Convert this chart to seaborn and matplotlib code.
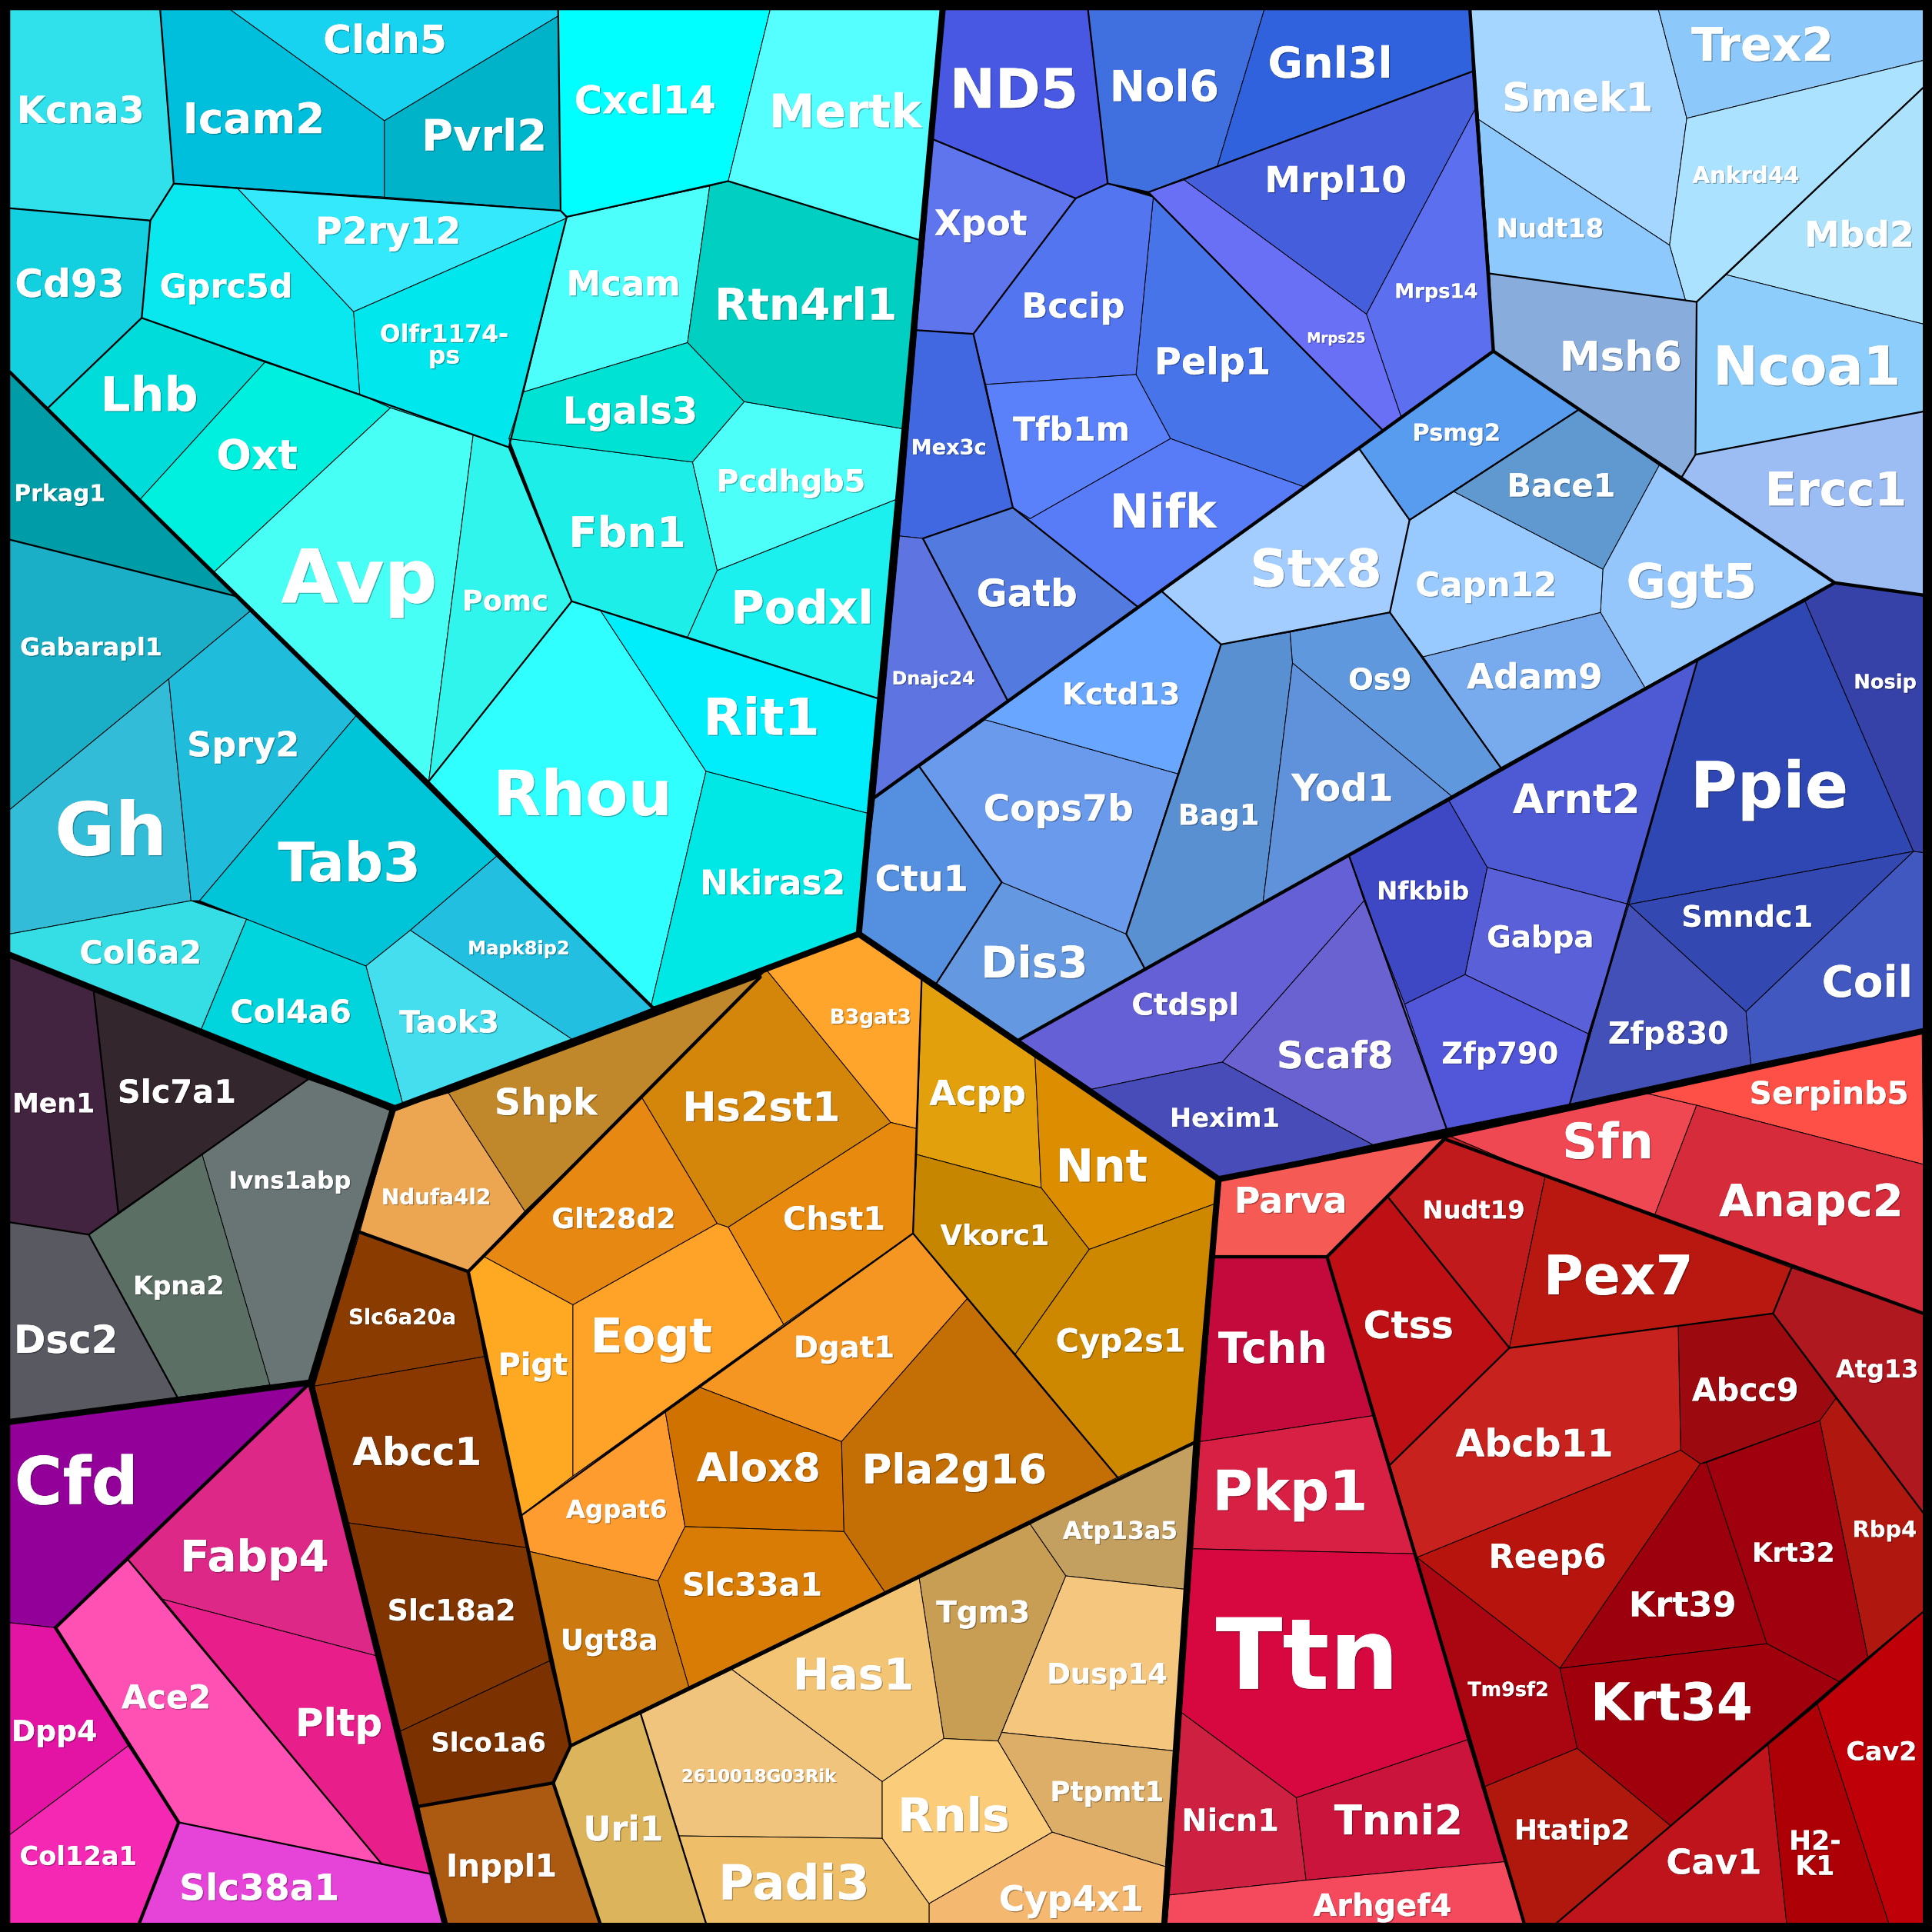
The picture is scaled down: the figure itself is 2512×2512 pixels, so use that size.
import matplotlib
matplotlib.use('Agg')
import matplotlib.pyplot as plt
import matplotlib.patheffects as pe
from matplotlib.font_manager import FontProperties
from matplotlib.textpath import TextPath
import seaborn as sns

sns.set_theme(style='white')
plt.rcParams['font.family'] = ['DejaVu Sans']

UNITS = 1568
PX = 2512 / UNITS
PT = PX * 0.72

# cell outlines per gene
cells_cyan = {
    'Kcna3': [(8, 8), (130, 8), (141, 149), (122, 179), (8, 169)],
    'Cldn5': [(187, 8), (453, 8), (453, 13), (312, 98)],
    'Icam2': [(130, 8), (187, 8), (312, 98), (312, 160), (141, 149)],
    'Pvrl2': [(312, 98), (453, 13), (455, 171), (312, 160)],
    'Cd93': [(8, 169), (122, 179), (115, 258), (39, 331), (8, 302)],
    'Gprc5d': [(141, 149), (193, 153), (287, 253), (292, 320), (215, 294), (115, 258), (122, 179)],
    'P2ry12': [(193, 153), (312, 160), (455, 171), (460, 177), (287, 253)],
    'Olfr1174-\nps': [(287, 253), (460, 177), (425, 318), (413, 363), (384, 353), (317, 331), (292, 320)],
    'Lhb': [(115, 258), (215, 294), (114, 405), (39, 331)],
    'Oxt': [(215, 294), (292, 320), (317, 331), (174, 464), (114, 405)],
    'Avp': [(317, 331), (384, 353), (348, 634), (174, 464)],
    'Pomc': [(384, 353), (413, 363), (464, 488), (348, 634)],
    'Rhou': [(464, 488), (487, 495), (573, 626), (528, 818), (348, 634)],
    'Rit1': [(487, 495), (558, 517), (713, 567), (704, 660), (573, 626)],
    'Nkiras2': [(573, 626), (704, 660), (698, 758), (528, 818)],
    'Podxl': [(582, 463), (728, 405), (713, 567), (558, 517)],
    'Pcdhgb5': [(604, 326), (733, 348), (728, 405), (582, 463), (562, 375)],
    'Fbn1': [(413, 356), (562, 375), (582, 463), (558, 517), (464, 488)],
    'Lgals3': [(425, 318), (558, 278), (604, 326), (562, 375), (413, 356)],
    'Mcam': [(460, 176), (576, 151), (558, 278), (425, 318)],
    'Rtn4rl1': [(576, 151), (591, 147), (747, 195), (733, 348), (604, 326), (558, 278)],
    'Cxcl14': [(453, 8), (625, 8), (591, 147), (576, 151), (460, 176), (455, 171)],
    'Mertk': [(625, 8), (765, 8), (747, 195), (591, 147)],
    'Prkag1': [(8, 302), (192, 484), (8, 438)],
    'Gabarapl1': [(8, 438), (192, 484), (203, 496), (137, 551), (8, 657)],
    'Gh': [(8, 657), (137, 551), (155, 731), (8, 758)],
    'Spry2': [(137, 551), (203, 496), (289, 581), (162, 731), (155, 731)],
    'Tab3': [(289, 581), (403, 695), (333, 755), (297, 784), (200, 746), (162, 731)],
    'Mapk8ip2': [(403, 695), (530, 818), (465, 844), (333, 755)],
    'Taok3': [(333, 755), (465, 844), (328, 900), (297, 784)],
    'Col4a6': [(200, 746), (297, 784), (328, 900), (163, 836)],
    'Col6a2': [(8, 758), (155, 731), (200, 746), (163, 836), (8, 775)],
}
cells_left = {
    'Men1': [(8, 775), (76, 804), (96, 984), (72, 1002), (8, 992)],
    'Slc7a1': [(76, 804), (250, 876), (164, 937), (96, 984)],
    'Ivns1abp': [(250, 876), (319, 900), (292, 1000), (252, 1122), (219, 1124), (164, 937)],
    'Kpna2': [(164, 937), (219, 1124), (144, 1134), (72, 1002)],
    'Dsc2': [(8, 992), (72, 1002), (144, 1134), (8, 1154)],
    'Cfd': [(8, 1154), (252, 1122), (104, 1266), (45, 1321), (8, 1317)],
    'Fabp4': [(252, 1122), (306, 1344), (132, 1298), (104, 1266)],
    'Pltp': [(132, 1298), (306, 1344), (350, 1521), (310, 1513)],
    'Ace2': [(104, 1266), (132, 1298), (310, 1513), (145, 1479), (104, 1417), (45, 1321)],
    'Dpp4': [(8, 1317), (45, 1321), (104, 1417), (8, 1489)],
    'Col12a1': [(8, 1489), (104, 1417), (145, 1479), (113, 1561), (8, 1561)],
    'Slc38a1': [(145, 1479), (310, 1513), (350, 1521), (361, 1561), (113, 1561)],
    'Slc6a20a': [(292, 1000), (380, 1032), (393, 1101), (255, 1125)],
    'Abcc1': [(255, 1125), (393, 1101), (427, 1256), (283, 1236)],
    'Slc18a2': [(283, 1236), (427, 1256), (446, 1348), (325, 1405)],
    'Slco1a6': [(325, 1405), (446, 1348), (463, 1417), (449, 1447), (340, 1466)],
    'Inppl1': [(340, 1466), (449, 1447), (487, 1561), (361, 1561)],
}
cells_orange = {
    'Ndufa4l2': [(320, 900), (364, 887), (426, 983), (380, 1032), (292, 1000)],
    'Shpk': [(364, 887), (617, 793), (521, 891), (426, 983)],
    'Hs2st1': [(622, 787), (723, 911), (591, 996), (582, 993), (521, 891)],
    'B3gat3': [(622, 787), (697, 759), (748, 795), (744, 916), (723, 911)],
    'Acpp': [(748, 795), (840, 858), (845, 964), (744, 937)],
    'Nnt': [(840, 858), (988, 957), (986, 977), (884, 1014), (845, 964)],
    'Vkorc1': [(744, 937), (845, 964), (884, 1014), (824, 1099), (785, 1054), (741, 1001)],
    'Cyp2s1': [(884, 1014), (986, 977), (971, 1170), (907, 1199), (824, 1099)],
    'Chst1': [(723, 911), (744, 916), (741, 1001), (636, 1075), (591, 996)],
    'Glt28d2': [(393, 1020), (521, 891), (582, 993), (465, 1059)],
    'Pigt': [(380, 1032), (393, 1020), (465, 1059), (465, 1198), (423, 1230)],
    'Eogt': [(465, 1059), (582, 993), (591, 996), (636, 1075), (465, 1198)],
    'Dgat1': [(636, 1075), (741, 1001), (785, 1054), (683, 1170), (568, 1126)],
    'Agpat6': [(423, 1230), (465, 1198), (540, 1146), (556, 1239), (534, 1283), (429, 1259)],
    'Alox8': [(540, 1146), (568, 1126), (683, 1170), (685, 1243), (556, 1239)],
    'Pla2g16': [(683, 1170), (785, 1054), (907, 1199), (718, 1292), (685, 1243)],
    'Slc33a1': [(556, 1239), (685, 1243), (718, 1292), (559, 1369), (534, 1283)],
    'Ugt8a': [(429, 1259), (534, 1283), (559, 1369), (463, 1417)],
    'Atp13a5': [(971, 1170), (963, 1290), (865, 1279), (836, 1237), (907, 1199)],
    'Tgm3': [(836, 1237), (865, 1279), (810, 1413), (766, 1411), (746, 1281)],
    'Dusp14': [(865, 1279), (963, 1290), (953, 1421), (813, 1406)],
    'Ptpmt1': [(813, 1406), (953, 1421), (946, 1515), (854, 1487), (810, 1413)],
    'Has1': [(594, 1355), (746, 1281), (766, 1411), (716, 1446)],
    '2610018G03Rik': [(594, 1355), (716, 1446), (716, 1492), (551, 1490), (520, 1391)],
    'Rnls': [(766, 1411), (810, 1413), (854, 1487), (754, 1545), (716, 1492), (716, 1446)],
    'Cyp4x1': [(854, 1487), (946, 1515), (945, 1561), (754, 1561), (754, 1545)],
    'Padi3': [(551, 1490), (716, 1492), (754, 1545), (754, 1561), (573, 1561)],
    'Uri1': [(463, 1417), (520, 1391), (551, 1490), (573, 1561), (487, 1561), (449, 1447)],
}
cells_red = {
    'Tchh': [(985, 1020), (1077, 1020), (1114, 1149), (974, 1170)],
    'Pkp1': [(974, 1170), (1114, 1149), (1148, 1261), (968, 1257)],
    'Ttn': [(968, 1257), (1148, 1261), (1191, 1412), (1052, 1459), (959, 1390)],
    'Nicn1': [(959, 1390), (1052, 1459), (1060, 1526), (949, 1538)],
    'Tnni2': [(1052, 1459), (1191, 1412), (1221, 1511), (1060, 1526)],
    'Arhgef4': [(949, 1538), (1060, 1526), (1221, 1511), (1237, 1561), (947, 1561)],
    'Parva': [(989, 957), (1174, 921), (1126, 971), (1077, 1020), (985, 1020)],
    'Sfn': [(1174, 921), (1335, 887), (1377, 897), (1343, 986), (1254, 955)],
    'Serpinb5': [(1335, 887), (1560, 838), (1561, 945), (1377, 897)],
    'Anapc2': [(1377, 897), (1561, 945), (1561, 1066), (1454, 1029), (1343, 986)],
    'Nudt19': [(1174, 921), (1254, 955), (1225, 1094), (1126, 971)],
    'Pex7': [(1254, 955), (1454, 1029), (1439, 1066), (1225, 1094)],
    'Ctss': [(1126, 971), (1225, 1094), (1128, 1189), (1077, 1020)],
    'Atg13': [(1454, 1029), (1561, 1066), (1561, 1228), (1490, 1135), (1439, 1066)],
    'Abcc9': [(1362, 1076), (1439, 1066), (1490, 1135), (1477, 1153), (1380, 1188), (1364, 1177)],
    'Abcb11': [(1225, 1094), (1362, 1076), (1364, 1177), (1150, 1264), (1128, 1189)],
    'Reep6': [(1150, 1264), (1364, 1177), (1380, 1188), (1266, 1354)],
    'Krt39': [(1380, 1188), (1385, 1187), (1434, 1334), (1266, 1354)],
    'Krt32': [(1385, 1187), (1477, 1153), (1516, 1345), (1493, 1365), (1434, 1334)],
    'Rbp4': [(1477, 1153), (1490, 1135), (1561, 1228), (1561, 1308), (1516, 1345)],
    'Krt34': [(1266, 1354), (1434, 1334), (1493, 1365), (1356, 1482), (1280, 1419)],
    'Tm9sf2': [(1150, 1264), (1266, 1354), (1280, 1419), (1205, 1450)],
    'Htatip2': [(1205, 1450), (1280, 1419), (1356, 1482), (1263, 1561), (1237, 1561)],
    'Cav1': [(1356, 1482), (1435, 1416), (1450, 1561), (1263, 1561)],
    'H2-\nK1': [(1435, 1416), (1475, 1383), (1533, 1561), (1450, 1561)],
    'Cav2': [(1475, 1383), (1561, 1308), (1561, 1561), (1533, 1561)],
}
cells_blue = {
    'ND5': [(764, 8), (883, 8), (899, 149), (873, 161), (757, 113)],
    'Nol6': [(883, 8), (1026, 8), (988, 135), (932, 156), (899, 149)],
    'Gnl3l': [(1026, 8), (1193, 8), (1195, 58), (988, 135)],
    'Mrpl10': [(988, 135), (1195, 58), (1197, 89), (1109, 255), (961, 146)],
    'Mrps14': [(1197, 89), (1212, 285), (1137, 338), (1109, 255)],
    'Mrps25': [(932, 156), (961, 146), (1109, 255), (1137, 338), (1122, 349)],
    'Pelp1': [(936, 160), (1122, 349), (1058, 395), (950, 356), (922, 304)],
    'Bccip': [(899, 149), (936, 160), (922, 304), (800, 312), (790, 271), (873, 161)],
    'Xpot': [(757, 113), (873, 161), (790, 271), (744, 268)],
    'Tfb1m': [(800, 312), (922, 304), (950, 356), (836, 421), (822, 412)],
    'Nifk': [(836, 421), (950, 356), (1058, 395), (924, 493), (822, 412)],
    'Mex3c': [(744, 268), (790, 271), (822, 412), (749, 437), (730, 435)],
    'Gatb': [(749, 437), (822, 412), (924, 493), (818, 569)],
    'Dnajc24': [(730, 435), (749, 437), (818, 569), (710, 647)],
    'Ctu1': [(710, 647), (746, 622), (813, 716), (760, 798), (697, 758)],
    'Dis3': [(813, 716), (914, 758), (929, 786), (827, 844), (760, 798)],
    'Cops7b': [(799, 584), (956, 628), (914, 758), (813, 716), (746, 622)],
    'Kctd13': [(943, 480), (991, 523), (956, 628), (799, 584)],
    'Bag1': [(991, 523), (1047, 513), (1049, 538), (1025, 733), (929, 786), (914, 758), (956, 628)],
    'Yod1': [(1049, 538), (1178, 646), (1025, 733)],
    'Os9': [(1047, 513), (1128, 497), (1218, 623), (1178, 646), (1049, 538)],
    'Stx8': [(1103, 364), (1144, 422), (1128, 497), (1047, 513), (991, 523), (943, 480)],
    'Adam9': [(1155, 533), (1299, 497), (1335, 558), (1218, 623)],
    'Capn12': [(1144, 422), (1180, 399), (1301, 462), (1299, 497), (1155, 533), (1128, 497)],
    'Bace1': [(1180, 399), (1282, 332), (1347, 377), (1301, 462)],
    'Ggt5': [(1347, 377), (1489, 473), (1335, 558), (1299, 497), (1301, 462)],
    'Psmg2': [(1103, 364), (1212, 285), (1282, 332), (1144, 422)],
    'Smek1': [(1193, 8), (1346, 8), (1369, 96), (1355, 199), (1200, 97)],
    'Trex2': [(1346, 8), (1561, 8), (1561, 49), (1369, 96)],
    'Ankrd44': [(1369, 96), (1561, 49), (1561, 71), (1377, 245), (1368, 244), (1355, 199)],
    'Mbd2': [(1561, 71), (1561, 263), (1401, 223)],
    'Ncoa1': [(1377, 245), (1401, 223), (1561, 263), (1561, 334), (1376, 369)],
    'Nudt18': [(1200, 97), (1355, 199), (1368, 244), (1209, 222)],
    'Msh6': [(1209, 222), (1377, 245), (1376, 369), (1365, 387), (1212, 285)],
    'Ercc1': [(1376, 369), (1561, 334), (1561, 483), (1489, 473), (1365, 387)],
    'Arnt2': [(1176, 650), (1378, 535), (1322, 734), (1207, 704)],
    'Ppie': [(1378, 535), (1465, 488), (1553, 691), (1322, 734)],
    'Nosip': [(1465, 488), (1489, 473), (1561, 483), (1561, 692), (1553, 691)],
    'Smndc1': [(1322, 734), (1553, 691), (1417, 821)],
    'Coil': [(1553, 691), (1561, 692), (1561, 836), (1421, 864), (1417, 821)],
    'Zfp830': [(1322, 734), (1417, 821), (1421, 864), (1274, 896)],
    'Gabpa': [(1207, 704), (1322, 734), (1289, 839), (1189, 791)],
    'Nfkbib': [(1095, 695), (1176, 650), (1207, 704), (1189, 791), (1140, 815), (1107, 731)],
    'Zfp790': [(1140, 815), (1189, 791), (1289, 839), (1274, 896), (1174, 916)],
    'Scaf8': [(1107, 731), (1140, 815), (1174, 916), (1114, 929), (992, 862)],
    'Ctdspl': [(1095, 695), (1107, 731), (992, 862), (886, 884), (827, 844)],
    'Hexim1': [(886, 884), (992, 862), (1114, 929), (989, 957)],
}

cell_colors = {
    'Kcna3': '#30e0ea', 'Cldn5': '#17d3f0', 'Icam2': '#00bfdc', 'Pvrl2': '#00b3c9', 'Cd93': '#12d0df',
    'Gprc5d': '#08e8ee', 'P2ry12': '#33e9fb', 'Olfr1174-\nps': '#00e8ee', 'Lhb': '#00dcda', 'Oxt': '#00f0e0',
    'Avp': '#48fff5', 'Pomc': '#30f5ec', 'Rhou': '#30ffff', 'Rit1': '#00eefc', 'Nkiras2': '#00e8e6',
    'Podxl': '#1cf0ee', 'Pcdhgb5': '#4cfff8', 'Fbn1': '#1eeee8', 'Lgals3': '#00e2d4', 'Mcam': '#4dfffa',
    'Rtn4rl1': '#00cfc2', 'Cxcl14': '#00ffff', 'Mertk': '#55ffff', 'Prkag1': '#009da8', 'Gabarapl1': '#1aafc6',
    'Gh': '#33bcd8', 'Spry2': '#20bcdc', 'Tab3': '#00c5d9', 'Mapk8ip2': '#22bfe0', 'Taok3': '#45deef',
    'Col4a6': '#00d4dc', 'Col6a2': '#35dde5',
    'Men1': '#432440', 'Slc7a1': '#33262c', 'Ivns1abp': '#697474', 'Kpna2': '#5c6f64', 'Dsc2': '#595962',
    'Cfd': '#930099', 'Fabp4': '#dd2888', 'Pltp': '#e81f8a', 'Ace2': '#ff50b4', 'Dpp4': '#e314a4',
    'Col12a1': '#f528b4', 'Slc38a1': '#e644d8', 'Slc6a20a': '#8a3c00', 'Abcc1': '#8a3800', 'Slc18a2': '#803400',
    'Slco1a6': '#7c3200', 'Inppl1': '#ac5a12',
    'Ndufa4l2': '#eca652', 'Shpk': '#c0882a', 'Hs2st1': '#d4860a', 'B3gat3': '#ffa52c', 'Acpp': '#e2a00c',
    'Nnt': '#dc8e00', 'Vkorc1': '#c68600', 'Cyp2s1': '#ce8800', 'Chst1': '#e88a0e', 'Glt28d2': '#e68812',
    'Pigt': '#ffa822', 'Eogt': '#ffa228', 'Dgat1': '#f59622', 'Agpat6': '#ff9c30', 'Alox8': '#cf7200',
    'Pla2g16': '#c46e06', 'Slc33a1': '#d87c06', 'Ugt8a': '#cc7a10', 'Atp13a5': '#c4a060', 'Tgm3': '#c89e54',
    'Dusp14': '#f4c67e', 'Ptpmt1': '#dcae68', 'Has1': '#f3c474', '2610018G03Rik': '#f0c47c', 'Rnls': '#fbcd7a',
    'Cyp4x1': '#f4b870', 'Padi3': '#eebe68', 'Uri1': '#dcb45c',
    'Tchh': '#c40a3c', 'Pkp1': '#d81f44', 'Ttn': '#d6083f', 'Nicn1': '#ce2040', 'Tnni2': '#cb143c',
    'Arhgef4': '#f54a5e', 'Parva': '#f55a55', 'Sfn': '#ef4852', 'Serpinb5': '#ff5048', 'Anapc2': '#d62b3a',
    'Nudt19': '#c01a1c', 'Pex7': '#b81810', 'Ctss': '#be1014', 'Atg13': '#b01820', 'Abcc9': '#9c0a10',
    'Abcb11': '#c8221e', 'Reep6': '#b6140c', 'Krt39': '#9c000c', 'Krt32': '#a0000e', 'Rbp4': '#b0180f',
    'Krt34': '#9f000c', 'Tm9sf2': '#aa0612', 'Htatip2': '#b0180e', 'Cav1': '#c0141c', 'H2-\nK1': '#ac0006',
    'Cav2': '#c00008',
    'ND5': '#4858e2', 'Nol6': '#4070e0', 'Gnl3l': '#2f62dc', 'Mrpl10': '#445edc', 'Mrps14': '#5c70ef',
    'Mrps25': '#6a70f6', 'Pelp1': '#4874ea', 'Bccip': '#5376f0', 'Xpot': '#5f75ee', 'Tfb1m': '#5a80fa',
    'Nifk': '#587cf8', 'Mex3c': '#4168e0', 'Gatb': '#537ade', 'Dnajc24': '#5e74e0', 'Ctu1': '#5590e0',
    'Cops7b': '#6a9aec', 'Dis3': '#6498e0', 'Kctd13': '#68a6ff', 'Bag1': '#5890d2', 'Yod1': '#6092dc',
    'Os9': '#5f98dc', 'Stx8': '#a4cdff', 'Psmg2': '#589cf0', 'Capn12': '#98caff', 'Bace1': '#6098d0',
    'Ggt5': '#94c6fc', 'Adam9': '#78aaee', 'Smek1': '#a4d6ff', 'Trex2': '#8cc8fa', 'Ankrd44': '#aae2ff',
    'Nudt18': '#8dc9fc', 'Mbd2': '#ace2fc', 'Msh6': '#88acdc', 'Ncoa1': '#8dcdfc', 'Ercc1': '#9cbcf4',
    'Arnt2': '#4e5ad4', 'Ppie': '#2f47b2', 'Nosip': '#3642a8', 'Smndc1': '#3348b0', 'Coil': '#4158c0',
    'Zfp830': '#4250b8', 'Gabpa': '#5a60d8', 'Nfkbib': '#3e48c4', 'Zfp790': '#5256d8', 'Scaf8': '#6a62d0',
    'Ctdspl': '#6660d6', 'Hexim1': '#484cb8',
}

# left edge, right edge and middle height of each gene name
label_extents = {
    'Kcna3': (15, 116, 89), 'Cldn5': (263, 362, 32), 'Icam2': (150, 262, 96), 'Pvrl2': (344, 442, 110),
    'Cxcl14': (466, 581, 81), 'Mertk': (624, 748, 90), 'P2ry12': (257, 373, 187), 'Cd93': (13, 100, 230),
    'Gprc5d': (130, 237, 232), 'Olfr1174-\nps': (308, 413, 280), 'Mcam': (461, 551, 230), 'Rtn4rl1': (581, 727, 247),
    'Lhb': (83, 159, 320), 'Oxt': (176, 241, 369), 'Lgals3': (458, 565, 333), 'Prkag1': (12, 85, 400),
    'Avp': (228, 355, 468), 'Pomc': (376, 444, 487), 'Fbn1': (463, 555, 432), 'Pcdhgb5': (582, 702, 390),
    'Podxl': (595, 707, 493), 'Gabarapl1': (16, 132, 525), 'Spry2': (153, 242, 604), 'Rit1': (573, 663, 582),
    'Rhou': (403, 543, 644), 'Gh': (47, 133, 673), 'Tab3': (226, 341, 700), 'Nkiras2': (569, 685, 716),
    'Col6a2': (65, 163, 773), 'Mapk8ip2': (380, 462, 769), 'Col4a6': (187, 285, 821), 'Taok3': (324, 405, 829),
    'Men1': (11, 76, 895), 'Slc7a1': (96, 191, 886), 'Ivns1abp': (186, 285, 958), 'Kpna2': (109, 181, 1043),
    'Dsc2': (13, 94, 1087), 'Cfd': (14, 110, 1202), 'Fabp4': (147, 266, 1263), 'Ace2': (99, 171, 1377),
    'Pltp': (241, 309, 1398), 'Dpp4': (10, 78, 1405), 'Col12a1': (16, 111, 1506), 'Slc38a1': (146, 275, 1532),
    'Ndufa4l2': (310, 398, 971), 'Shpk': (401, 485, 894), 'Hs2st1': (555, 681, 898), 'B3gat3': (674, 739, 825),
    'Acpp': (754, 833, 887), 'Nnt': (858, 930, 946), 'Glt28d2': (448, 548, 989), 'Chst1': (636, 718, 989),
    'Vkorc1': (763, 852, 1002), 'Cyp2s1': (857, 962, 1088), 'Slc6a20a': (283, 370, 1069), 'Pigt': (405, 460, 1107),
    'Eogt': (480, 577, 1084), 'Dgat1': (645, 725, 1093), 'Abcc1': (286, 391, 1178), 'Agpat6': (459, 542, 1225),
    'Alox8': (565, 666, 1191), 'Pla2g16': (700, 849, 1192), 'Slc33a1': (554, 667, 1286), 'Slc18a2': (315, 418, 1307),
    'Ugt8a': (456, 533, 1331), 'Atp13a5': (862, 956, 1242), 'Tgm3': (760, 836, 1308), 'Has1': (645, 740, 1359),
    'Dusp14': (850, 947, 1358), 'Slco1a6': (350, 443, 1414), '2610018G03Rik': (552, 680, 1441),
    'Ptpmt1': (853, 944, 1454), 'Rnls': (730, 818, 1473), 'Uri1': (475, 537, 1484), 'Inppl1': (363, 451, 1514),
    'Padi3': (585, 704, 1528), 'Cyp4x1': (811, 928, 1541),
    'ND5': (773, 873, 72), 'Nol6': (902, 988, 70), 'Gnl3l': (1030, 1129, 51), 'Mrpl10': (1027, 1141, 146),
    'Xpot': (758, 834, 181), 'Bccip': (830, 912, 248), 'Mrps14': (1132, 1199, 236), 'Mrps25': (1061, 1108, 274),
    'Pelp1': (938, 1030, 293), 'Tfb1m': (822, 917, 348), 'Mex3c': (740, 800, 363), 'Nifk': (901, 987, 415),
    'Gatb': (793, 874, 481), 'Dnajc24': (724, 791, 550), 'Kctd13': (863, 957, 563), 'Cops7b': (798, 920, 656),
    'Bag1': (957, 1021, 661), 'Ctu1': (711, 785, 713), 'Dis3': (798, 881, 781), 'Stx8': (1016, 1120, 461),
    'Psmg2': (1147, 1217, 351), 'Capn12': (1149, 1263, 474), 'Bace1': (1224, 1310, 394), 'Ggt5': (1321, 1425, 472),
    'Os9': (1095, 1145, 551), 'Adam9': (1190, 1301, 549), 'Yod1': (1048, 1131, 639), 'Arnt2': (1228, 1331, 648),
    'Ppie': (1374, 1498, 637), 'Nosip': (1505, 1555, 553), 'Nfkbib': (1118, 1192, 723), 'Gabpa': (1207, 1293, 760),
    'Smndc1': (1365, 1471, 744), 'Coil': (1480, 1551, 797), 'Zfp830': (1305, 1403, 838), 'Zfp790': (1170, 1265, 855),
    'Ctdspl': (919, 1005, 815), 'Scaf8': (1037, 1130, 856), 'Hexim1': (950, 1038, 907), 'Smek1': (1220, 1341, 79),
    'Trex2': (1373, 1488, 36), 'Ankrd44': (1373, 1461, 142), 'Nudt18': (1215, 1301, 185), 'Mbd2': (1466, 1552, 190),
    'Msh6': (1267, 1364, 289), 'Ncoa1': (1392, 1541, 297), 'Ercc1': (1434, 1546, 397),
    'Serpinb5': (1420, 1549, 887), 'Sfn': (1270, 1340, 926), 'Anapc2': (1395, 1545, 974), 'Parva': (1003, 1092, 974),
    'Nudt19': (1155, 1237, 982), 'Pex7': (1255, 1372, 1035), 'Ctss': (1107, 1179, 1075), 'Tchh': (989, 1077, 1094),
    'Atg13': (1490, 1557, 1111), 'Abcc9': (1373, 1460, 1128), 'Abcb11': (1181, 1310, 1171), 'Pkp1': (986, 1108, 1210),
    'Reep6': (1209, 1303, 1263), 'Krt32': (1423, 1488, 1260), 'Rbp4': (1504, 1555, 1241), 'Krt39': (1323, 1408, 1302),
    'Ttn': (988, 1134, 1343), 'Krt34': (1292, 1421, 1381), 'Tm9sf2': (1191, 1257, 1371), 'Cav2': (1499, 1555, 1421),
    'Nicn1': (960, 1037, 1477), 'Tnni2': (1083, 1187, 1477), 'Htatip2': (1230, 1322, 1485), 'Cav1': (1353, 1429, 1511),
    'H2-\nK1': (1453, 1493, 1504), 'Arhgef4': (1065, 1179, 1546),
}

# dividers between the groups, heaviest first
heavy_lines = [
    [(8, 775), (319, 900), (697, 758), (765, 8)],
    [(697, 758), (989, 957), (1174, 921), (1560, 837)],
    [(989, 957), (971, 1170), (945, 1561)],
    [(319, 900), (252, 1122), (8, 1154)],
    [(252, 1122), (361, 1561)],
]
medium_lines = [
    [(8, 302), (530, 818)],
    [(1193, 8), (1212, 285)],
    [(710, 647), (1212, 285), (1489, 473), (1561, 483)],
    [(827, 844), (1489, 473)],
    [(1174, 925), (1561, 1066)],
    [(1077, 1020), (1237, 1561)],
    [(985, 1020), (1077, 1020), (1174, 923)],
    [(292, 1000), (380, 1032), (463, 1417), (449, 1447), (487, 1561)],
    [(463, 1417), (971, 1170)],
    [(380, 1032), (617, 793)],
    [(252, 1122), (45, 1321), (145, 1479), (113, 1561)],
    [(340, 1466), (449, 1447)],
]
light_lines = [
    [(453, 8), (455, 171), (460, 176), (413, 363), (464, 488), (348, 634)],
    [(141, 149), (455, 171)],
    [(130, 8), (141, 149), (122, 179), (115, 258), (39, 331)],
    [(8, 169), (122, 179)],
    [(115, 258), (413, 363)],
    [(460, 176), (591, 147), (747, 195)],
    [(464, 488), (713, 567)],
    [(192, 484), (8, 438)],
    [(757, 113), (873, 161), (899, 149), (883, 8)],
    [(899, 149), (932, 156), (1195, 58)],
    [(932, 156), (1122, 349)],
    [(873, 161), (790, 271), (822, 412), (924, 493)],
    [(822, 412), (749, 437), (818, 569)],
    [(744, 268), (790, 271)],
    [(943, 480), (991, 523), (914, 758), (929, 786)],
    [(991, 523), (1128, 497), (1218, 623)],
    [(1103, 364), (1144, 422), (1128, 497)],
    [(1144, 422), (1282, 332)],
    [(1209, 222), (1377, 245), (1376, 369), (1561, 334)],
    [(1377, 245), (1561, 71)],
    [(1376, 369), (1365, 387)],
    [(1095, 695), (1174, 916)],
    [(1378, 535), (1274, 896)],
    [(746, 622), (799, 584)],
    [(746, 622), (813, 716), (760, 798)],
    [(748, 795), (741, 1001), (423, 1230)],
    [(741, 1001), (907, 1199)],
    [(1126, 971), (1225, 1094), (1128, 1189)],
    [(1225, 1094), (1439, 1066), (1561, 1228)],
    [(1454, 1029), (1439, 1066)],
    [(1493, 1365), (1561, 1308)],
    [(1493, 1365), (1263, 1561)],
    [(145, 1479), (350, 1521)],
    [(104, 1266), (310, 1513)],
    [(76, 804), (96, 984)],
    [(8, 992), (72, 1002), (144, 1134)],
    [(72, 1002), (250, 876)],
    [(520, 1391), (573, 1561)],
]
frame_line = [(4, 4), (1564, 4), (1564, 1564), (4, 1564), (4, 4)]

all_cells = {**cells_cyan, **cells_left, **cells_orange, **cells_red, **cells_blue}
bold = FontProperties(family='DejaVu Sans', weight='bold')


def draw_lines(ax, lines, width):
    for line in lines:
        xs, ys = zip(*line)
        sns.lineplot(x=list(xs), y=list(ys), sort=False, estimator=None, color='black',
                     linewidth=width * PT, ax=ax, legend=False, solid_capstyle='round',
                     solid_joinstyle='round', zorder=3)


def font_units(name, target_width):
    """Font size in picture units so the longest line of the name spans target_width."""
    widest = max(TextPath((0, 0), part, size=1, prop=bold).get_extents().width
                 for part in name.split('\n'))
    return 0.975 * target_width / widest


fig = plt.figure(figsize=(25.12, 25.12), dpi=100, facecolor='black')
ax = fig.add_axes([0, 0, 1, 1])
ax.set_facecolor('black')

for name, outline in all_cells.items():
    xs, ys = zip(*outline)
    ax.fill(xs, ys, facecolor=cell_colors[name], edgecolor='black', linewidth=0.6 * PT, zorder=2)

draw_lines(ax, light_lines, 1.4)
draw_lines(ax, medium_lines, 2.7)
draw_lines(ax, heavy_lines, 5)
draw_lines(ax, [frame_line], 8)

shadow = [pe.withSimplePatchShadow(offset=(1, -1), shadow_rgbFace='black', alpha=0.3), pe.Normal()]
for name, (left, right, mid) in label_extents.items():
    size = font_units(name, right - left)
    ax.text((left + right) / 2, mid - 0.03 * size, name, color='white', fontproperties=bold,
            fontsize=size * PT, ha='center', va='center_baseline',
            linespacing=0.95, path_effects=shadow, zorder=4)

ax.set_xlim(0, UNITS)
ax.set_ylim(UNITS, 0)
ax.axis('off')

fig.savefig('out.png', dpi=100, facecolor='black')
